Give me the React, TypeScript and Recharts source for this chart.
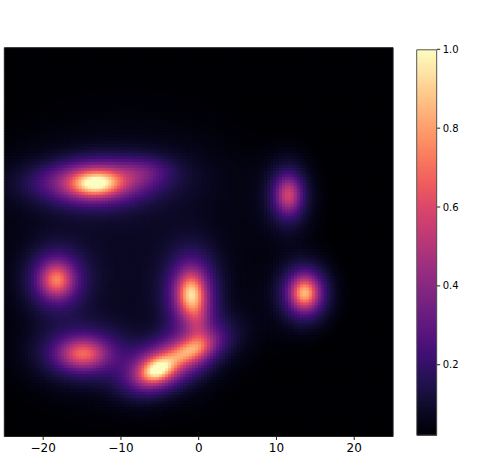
import React from 'react';
import { ScatterChart, Scatter, XAxis, YAxis } from 'recharts';

// ---- axis ticks ----
const xTicks = [-20, -10, 0, 10, 20];
const yTicks = [-20, -10, 0, 10, 20];
const colorTicks = [0.2, 0.4, 0.6, 0.8, 1.0];
const colorDomain = [0.02, 1.0];

// ---- density components (data units) ----
const blobX = [-13.2, -13.5, -7.0, -18.2, -0.95, -14.8, -5.3, -1.0, 0.0, 11.6, 13.7, -9.0];
const blobY = [7.6, 7.9, 9.2, -4.8, -6.6, -14.3, -16.4, -13.9, -10.0, 6.1, -6.5, -2.0];
const blobAmp = [0.74, 0.3, 0.14, 0.68, 0.8, 0.64, 0.9, 0.6, 0.2, 0.55, 0.84, 0.08];
const blobSx = [2.0, 5.0, 2.5, 1.35, 1.15, 2.0, 1.5, 2.0, 1.0, 1.05, 1.15, 14.0];
const blobSy = [1.05, 1.6, 1.2, 1.45, 1.8, 1.25, 1.15, 1.25, 2.5, 1.55, 1.35, 14.0];
const blobRho = [0.05, 0.05, 0.1, 0, 0, 0, 0.3, 0.5, 0, 0, 0, 0];
// share of each component carried by a wider (2x) tail
const tailShare = [0.35, 0.2, 0.2, 0.4, 0.4, 0.4, 0.4, 0.4, 0.3, 0.4, 0.4, 0];

// ---- magma colormap stops ----
const magmaStops = [
  '#000004', '#07061c', '#150e37', '#251255', '#3b0f70', '#51127c', '#641a80',
  '#782281', '#8c2981', '#a1307e', '#b73779', '#cb3e71', '#de4968', '#ee5b5e',
  '#f7705c', '#fc8961', '#fe9f6d', '#feb77e', '#fecf92', '#fde7a9', '#fcfdbf',
];

const GRID_N = 130;
const X_MIN = -25;
const X_MAX = 25;

function hexToRgb(h: string) {
  return [parseInt(h.slice(1, 3), 16), parseInt(h.slice(3, 5), 16), parseInt(h.slice(5, 7), 16)];
}
const magmaRgb = magmaStops.map(hexToRgb);

function magma(t: number) {
  const c = Math.max(0, Math.min(1, t)) * (magmaRgb.length - 1);
  const i = Math.min(magmaRgb.length - 2, Math.floor(c));
  const f = c - i;
  const a = magmaRgb[i];
  const b = magmaRgb[i + 1];
  const r = Math.round(a[0] + (b[0] - a[0]) * f);
  const g = Math.round(a[1] + (b[1] - a[1]) * f);
  const bl = Math.round(a[2] + (b[2] - a[2]) * f);
  return `rgb(${r},${g},${bl})`;
}

function density(x: number, y: number) {
  let v = 0;
  for (let k = 0; k < blobX.length; k++) {
    const dx = (x - blobX[k]) / blobSx[k];
    const dy = (y - blobY[k]) / blobSy[k];
    const r = blobRho[k];
    const q = (dx * dx - 2 * r * dx * dy + dy * dy) / (1 - r * r);
    const ts = tailShare[k];
    v += blobAmp[k] * ((1 - ts) * Math.exp(-0.5 * q) + ts * Math.exp(-0.125 * q));
  }
  return v;
}

const toT = (v: number) => (v - colorDomain[0]) / (colorDomain[1] - colorDomain[0]);

const step = (X_MAX - X_MIN) / GRID_N;
const cells: { x: number; y: number; fill: string }[] = [];
for (let i = 0; i < GRID_N; i++) {
  for (let j = 0; j < GRID_N; j++) {
    const x = X_MIN + (i + 0.5) * step;
    const y = X_MIN + (j + 0.5) * step;
    cells.push({ x, y, fill: magma(toT(density(x, y))) });
  }
}

// colorbar cells
const CB_N = 160;
const cbStep = (colorDomain[1] - colorDomain[0]) / CB_N;
const colorCells: { x: number; y: number; fill: string }[] = [];
for (let k = 0; k < CB_N; k++) {
  const v = colorDomain[0] + (k + 0.5) * cbStep;
  colorCells.push({ x: 0.5, y: v, fill: magma(toT(v)) });
}

// ---- layout ----
const PLOT_LEFT = 4.3;
const PLOT_TOP = 47.7;
const PLOT_SIZE = 388.8;
const MAIN_W = 400;
const MAIN_H = 467;
const X_AXIS_H = 30;
const CELL_PX = PLOT_SIZE / GRID_N;

const CB_LEFT = 16.7;
const CB_TOP = 49.3;
const CB_W = 20;
const CB_H = 435.7 - 49.3;
const CB_CELL_PX = CB_H / CB_N;

const mainMargin = {
  top: PLOT_TOP,
  left: PLOT_LEFT,
  right: MAIN_W - PLOT_LEFT - PLOT_SIZE,
  bottom: MAIN_H - PLOT_TOP - PLOT_SIZE,
};

const CellShape = (props: any) => {
  const { cx, cy, payload } = props;
  const s = CELL_PX + 1;
  return <rect x={cx - s / 2} y={cy - s / 2} width={s} height={s} fill={payload.fill} />;
};

const ColorCellShape = (props: any) => {
  const { cx, cy, payload } = props;
  const h = CB_CELL_PX + 1;
  return <rect x={cx - CB_W / 2} y={cy - h / 2} width={CB_W} height={h} fill={payload.fill} shapeRendering="crispEdges" />;
};

const axisColor = '#222';
const font = 'DejaVu Sans, sans-serif';

export default function App() {
  return (
    <div style={{ position: 'absolute', left: 0, top: 0, width: 479, height: 467, background: '#fff', overflow: 'hidden' }}>
      {/* heatmap cells */}
      <div style={{ position: 'absolute', left: 0, top: 0 }}>
        <ScatterChart width={MAIN_W} height={MAIN_H} margin={mainMargin}>
          <XAxis type="number" dataKey="x" domain={[X_MIN, X_MAX]} hide allowDataOverflow />
          <YAxis type="number" dataKey="y" domain={[X_MIN, X_MAX]} hide allowDataOverflow />
          <Scatter data={cells} shape={CellShape} isAnimationActive={false} />
        </ScatterChart>
      </div>
      {/* axes & frame overlay */}
      <div style={{ position: 'absolute', left: 0, top: 0 }}>
        <ScatterChart
          width={MAIN_W}
          height={MAIN_H}
          margin={{ top: PLOT_TOP - 1, left: 0, right: mainMargin.right - 1, bottom: mainMargin.bottom - X_AXIS_H }}
        >
          <XAxis
            type="number"
            dataKey="x"
            domain={[X_MIN, X_MAX]}
            ticks={xTicks}
            height={X_AXIS_H}
            tickSize={3.5}
            tickMargin={3}
            axisLine={{ stroke: axisColor, strokeWidth: 1 }}
            tickLine={{ stroke: axisColor, strokeWidth: 1 }}
            tick={{ fill: '#000', fontSize: 12, fontFamily: font }}
            tickFormatter={(v: number) => (v < 0 ? `\u2212${Math.abs(v)}` : `${v}`)}
            allowDataOverflow
          />
          <XAxis
            xAxisId="top"
            orientation="top"
            type="number"
            dataKey="x"
            domain={[X_MIN, X_MAX]}
            height={1}
            axisLine={{ stroke: axisColor, strokeWidth: 1 }}
            tickLine={false}
            tick={false}
            allowDataOverflow
          />
          <YAxis
            type="number"
            dataKey="y"
            domain={[X_MIN, X_MAX]}
            ticks={yTicks}
            width={PLOT_LEFT}
            tickSize={3.5}
            axisLine={{ stroke: axisColor, strokeWidth: 1 }}
            tickLine={{ stroke: axisColor, strokeWidth: 1 }}
            tick={false}
            allowDataOverflow
          />
          <YAxis
            yAxisId="right"
            orientation="right"
            type="number"
            dataKey="y"
            domain={[X_MIN, X_MAX]}
            width={1}
            axisLine={{ stroke: axisColor, strokeWidth: 1 }}
            tickLine={false}
            tick={false}
            allowDataOverflow
          />
          <Scatter data={[]} isAnimationActive={false} />
        </ScatterChart>
      </div>
      {/* colorbar */}
      <div style={{ position: 'absolute', left: 400, top: 0 }}>
        <ScatterChart width={79} height={467} margin={{ top: CB_TOP, left: CB_LEFT, right: 0, bottom: 467 - CB_TOP - CB_H }}>
          <XAxis type="number" dataKey="x" domain={[0, 1]} hide />
          <YAxis
            type="number"
            dataKey="y"
            orientation="right"
            domain={colorDomain}
            ticks={colorTicks}
            width={79 - CB_LEFT - CB_W}
            tickSize={3.5}
            tickMargin={2.5}
            axisLine={false}
            tickLine={{ stroke: axisColor, strokeWidth: 1 }}
            tick={{ fill: '#000', fontSize: 10, fontFamily: font, textAnchor: 'start' }}
            tickFormatter={(v: number) => v.toFixed(1)}
            allowDataOverflow
          />
          <Scatter data={colorCells} shape={ColorCellShape} isAnimationActive={false} />
        </ScatterChart>
      </div>
      {/* colorbar outline */}
      <div style={{ position: 'absolute', left: 400, top: 0, pointerEvents: 'none' }}>
        <ScatterChart width={79} height={467} margin={{ top: CB_TOP, left: CB_LEFT - 1, right: 0, bottom: 467 - CB_TOP - CB_H }}>
          <XAxis type="number" dataKey="x" domain={[0, 1]} height={0.5} axisLine={{ stroke: '#555', strokeWidth: 1 }} tick={false} tickLine={false} />
          <XAxis xAxisId="t" orientation="top" type="number" dataKey="x" domain={[0, 1]} height={0.5} axisLine={{ stroke: '#555', strokeWidth: 1 }} tick={false} tickLine={false} />
          <YAxis type="number" dataKey="y" domain={colorDomain} width={1} axisLine={{ stroke: '#555', strokeWidth: 1 }} tick={false} tickLine={false} />
          <YAxis yAxisId="r" orientation="right" type="number" dataKey="y" domain={colorDomain} width={79 - CB_LEFT - CB_W} axisLine={{ stroke: '#555', strokeWidth: 1 }} tick={false} tickLine={false} />
          <Scatter data={[]} isAnimationActive={false} />
        </ScatterChart>
      </div>
    </div>
  );
}
